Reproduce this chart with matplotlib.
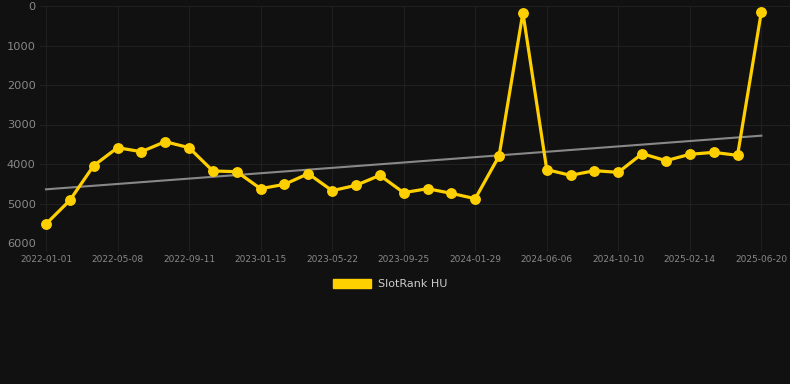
import numpy as np
import matplotlib
matplotlib.use("Agg")
import matplotlib.pyplot as plt

ranks = [5520, 4920, 4043, 3587, 3688, 3435, 3587, 4177, 4194, 4625,
         4515, 4245, 4675, 4540, 4287, 4726, 4625, 4743, 4878, 3797,
         169, 4143, 4287, 4169, 4211, 3738, 3916, 3755, 3705, 3781, 143]
tick_labels = ["2022-01-01", "2022-05-08", "2022-09-11", "2023-01-15", "2023-05-22",
               "2023-09-25", "2024-01-29", "2024-06-06", "2024-10-10", "2025-02-14",
               "2025-06-20"]
series_name = "SlotRank HU"

bg = "#111111"
fig = plt.figure(figsize=(7.9, 3.84), dpi=100, facecolor=bg)
ax = fig.add_axes([40/790, 141/384, 750/790, 237/384], facecolor=bg)

x = np.arange(len(ranks))
coef = np.polyfit(x, ranks, 1)
trend = np.polyval(coef, x[[0, -1]])
ax.plot(x[[0, -1]], trend, color="#888888", lw=1.5, zorder=2)

ax.plot(x, ranks, color="#ffd000", lw=2.3, marker="o", markersize=6.8,
        zorder=3, clip_on=False, label=series_name)

ax.set_ylim(6000, 0)
ax.set_xlim(-0.25, 31.2)
ax.set_yticks([0, 1000, 2000, 3000, 4000, 5000, 6000])
ax.set_xticks(x[::3])
ax.set_xticklabels(tick_labels)
ax.tick_params(axis="y", colors="#888888", labelsize=8.2, length=0, pad=3)
ax.tick_params(axis="x", colors="#888888", labelsize=6.5, length=6, pad=2.5, color="#1f1f1f")
for s in ax.spines.values():
    s.set_visible(False)
ax.grid(True, color="#202020", lw=0.8, zorder=0)

leg = fig.legend(handles=[plt.Rectangle((0, 0), 1, 1, color="#ffd000")],
                 labels=[series_name], loc="center", bbox_to_anchor=(390/790, 1 - 284/384),
                 frameon=False, handlelength=3.4, handleheight=0.9, handletextpad=0.6,
                 fontsize=8)
for t in leg.get_texts():
    t.set_color("#cccccc")

fig.savefig("out.png", dpi=100, facecolor=bg)
